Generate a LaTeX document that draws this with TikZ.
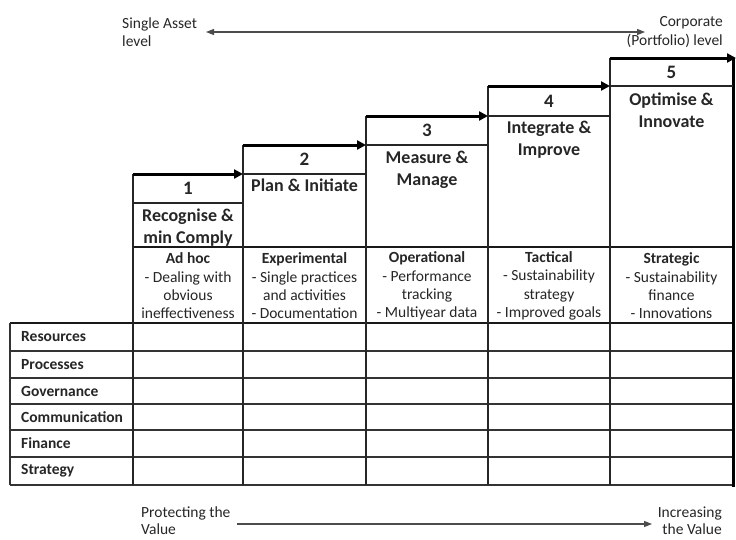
\documentclass[tikz,border=0pt]{standalone}
\usepackage{fontspec}
\setmainfont{Carlito}
\usetikzlibrary{arrows.meta}

\begin{document}
\begin{tikzpicture}[x=1pt,y=-1pt,
  gridline/.style={draw=black!80, line width=1.1pt},
  heavyline/.style={draw=black!90, line width=1.8pt},
  stepline/.style={draw=black!85, line width=1.3pt},
  climb/.style={draw=black, line width=3pt, -{Triangle[length=9pt,width=9pt]}},
  scalearrow/.style={draw=black!70, line width=1.2pt},
  smalltxt/.style={font=\fontsize{15.5}{18.3}\selectfont, text=black!85, inner sep=0pt, align=center},
  rowlabel/.style={font=\fontsize{15.5}{18.3}\selectfont\bfseries, text=black!85, inner sep=0pt, anchor=west},
  bigtxt/.style={font=\fontsize{18}{22}\selectfont\bfseries, text=black!85, inner sep=0pt, align=center},
  numtxt/.style={font=\fontsize{19}{22}\selectfont\bfseries, text=black!85, inner sep=0pt}]

\useasboundingbox (0,0) rectangle (736,539);

% corners of the five steps
\coordinate (s1) at (133,174);
\coordinate (s2) at (243,145);
\coordinate (s3) at (366,116);
\coordinate (s4) at (488,86);
\coordinate (s5) at (610,58);
\coordinate (s6) at (736,58);

% table rows
\foreach \y in {351,378,404,430,457,485}
  \draw[gridline] (10,\y) -- (733,\y);
\draw[heavyline] (10,323) -- (733,323);
\draw[heavyline] (133,247) -- (733,247);
\draw[gridline] (10,323) -- (10,485);

% step columns
\draw[stepline] (s1) -- (133,485);
\draw[stepline] (s2) -- (243,485);
\draw[stepline] (s3) -- (366,485);
\draw[stepline] (s4) -- (488,485);
\draw[stepline] (s5) -- (610,485);
\draw[draw=black, line width=3pt] (733,58) -- (733,486.5);

% lines under the step numbers
\draw[stepline] (133,203) -- (243,203);
\draw[stepline] (243,174) -- (366,174);
\draw[stepline] (366,145) -- (488,145);
\draw[stepline] (488,116) -- (610,116);
\draw[stepline] (610,86) -- (733,86);

% rising arrows on top of each step
\draw[climb] (s1) -- (s2 |- s1);
\draw[climb] (s2) -- (s3 |- s2);
\draw[climb] (s3) -- (s4 |- s3);
\draw[climb] (s4) -- (s5 |- s4);
\draw[climb] (s5) -- (s6);

% step numbers and names
\node[numtxt] (n1) at (188,188.5) {1};
\node[numtxt] (n2) at (304.5,159.5) {2};
\node[numtxt] (n3) at (427,130.5) {3};
\node[numtxt] (n4) at (549,101) {4};
\node[numtxt] (n5) at (671.5,72) {5};

\node[bigtxt] (t1) at (188,227.5) {Recognise \&\\min Comply};
\node[bigtxt] (t2) at (304.5,185) {Plan \& Initiate};
\node[bigtxt] (t3) at (427,169.5) {Measure \&\\Manage};
\node[bigtxt] (t4) at (549,140) {Integrate \&\\Improve};
\node[bigtxt] (t5) at (671.5,110) {Optimise \&\\Innovate};

% maturity descriptions
\node[smalltxt] (d1) at (188,286) {\textbf{Ad hoc}\\- Dealing with\\obvious\\ineffectiveness};
\node[smalltxt] (d2) at (304.5,286) {\textbf{Experimental}\\- Single practices\\and activities\\- Documentation};
\node[smalltxt] (d3) at (427,286) {\textbf{Operational}\\- Performance\\tracking\\- Multiyear data};
\node[smalltxt] (d4) at (549,286) {\textbf{Tactical}\\- Sustainability\\strategy\\- Improved goals};
\node[smalltxt] (d5) at (671.5,286) {\textbf{Strategic}\\- Sustainability\\finance\\- Innovations};

% row labels
\node[rowlabel] (r1) at (21,337) {Resources};
\node[rowlabel] (r2) at (21,364.5) {Processes};
\node[rowlabel] (r3) at (21,391) {Governance};
\node[rowlabel] (r4) at (21,417) {Communication};
\node[rowlabel] (r5) at (21,443.5) {Finance};
\node[rowlabel] (r6) at (21,471) {Strategy};

% scope scale at the top
\node[smalltxt, align=left, anchor=west] (asset) at (122,32) {Single Asset\\level};
\node[smalltxt, align=right, anchor=east] (corp) at (723,32) {Corporate\\(Portfolio) level};
\coordinate (tl) at (206,32);
\coordinate (tr) at (645,32);
\draw[scalearrow, {Triangle[length=8pt,width=6pt]}-{Triangle[length=8pt,width=6pt]}] (tl) -- (tr);

% value scale at the bottom
\node[smalltxt, align=left, anchor=west, font=\fontsize{15.5}{17}\selectfont] (protect) at (141,520.5) {Protecting the\\Value};
\node[smalltxt, align=right, anchor=east, font=\fontsize{15.5}{17}\selectfont] (increase) at (722,520.5) {Increasing\\the Value};
\coordinate (bl) at (237,524);
\coordinate (br) at (652,524);
\draw[scalearrow, -{Triangle[length=8pt,width=6pt]}] (bl) -- (br);

\end{tikzpicture}
\end{document}
